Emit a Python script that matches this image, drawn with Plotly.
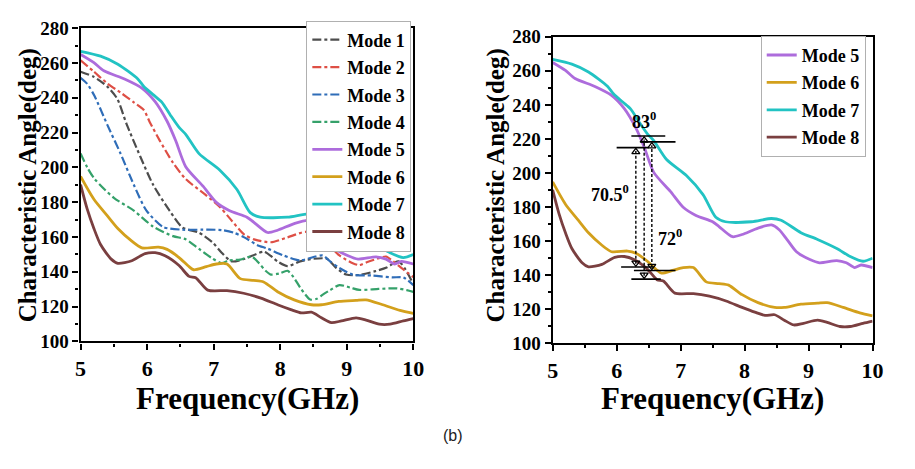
import plotly.graph_objects as go

# ---------------- data ----------------
mode_names = ["Mode 1", "Mode 2", "Mode 3", "Mode 4", "Mode 5", "Mode 6", "Mode 7", "Mode 8"]

f1 = [5.0, 5.2, 5.4, 5.55, 5.69, 5.9, 6.09, 6.34, 6.53, 6.78, 6.98, 7.12, 7.27, 7.47, 7.76, 7.96, 8.11, 8.3, 8.5, 8.7, 8.84, 8.99, 9.19, 9.43, 9.6, 9.78, 10.0]
m1 = [255, 252, 246.5, 239.5, 225, 206, 190, 175, 165.5, 162.5, 157, 151, 146, 147.5, 151.5, 146, 143.3, 146, 147.5, 147.5, 142.3, 138.5, 138.2, 140.4, 142.5, 146, 133]

f2 = [5.0, 5.2, 5.4, 5.6, 5.8, 5.95, 6.04, 6.19, 6.39, 6.58, 6.87, 7.1, 7.23, 7.46, 7.62, 7.86, 8.11, 8.4, 8.64, 8.89, 9.09, 9.19, 9.3, 9.48, 9.59, 9.7, 9.83, 10.0]
m2 = [261.5, 255, 248.3, 243, 237.4, 233, 226, 215.4, 202.6, 193.3, 184.5, 177, 171.3, 161.4, 158.5, 157, 159.8, 163, 158.7, 149.4, 145, 143.9, 145.5, 147.8, 148.8, 146, 142, 137]

f3 = [5.0, 5.1, 5.21, 5.4, 5.6, 5.8, 5.99, 6.24, 6.53, 6.83, 7.12, 7.3, 7.46, 7.65, 7.82, 8.05, 8.3, 8.5, 8.64, 8.75, 8.89, 9.09, 9.38, 9.68, 9.85, 10.0]
m3 = [251.5, 248, 241, 224.6, 208, 190, 175.2, 165.8, 164.2, 164.2, 164, 162.5, 159.8, 155.5, 153.2, 149.4, 146.6, 148.5, 149.4, 146, 142.2, 138.4, 137.9, 136.8, 136.8, 132.4]

f4 = [5.0, 5.1, 5.21, 5.5, 5.8, 6.09, 6.39, 6.58, 6.78, 6.98, 7.12, 7.23, 7.4, 7.57, 7.68, 7.78, 7.86, 7.98, 8.11, 8.2, 8.3, 8.45, 8.55, 8.64, 8.75, 8.89, 9.05, 9.19, 9.48, 9.75, 9.9, 10.0]
m4 = [208, 200, 193.4, 182.5, 175.2, 166, 160.5, 158.7, 153.2, 147.7, 145, 146.6, 147, 148.8, 145, 140.6, 138.4, 139, 140.6, 137, 131, 124.1, 124.5, 126.9, 129.5, 132.4, 131, 129.6, 130.2, 130.5, 129.5, 128.5]

f5 = [5.0, 5.2, 5.35, 5.66, 5.92, 6.12, 6.3, 6.43, 6.58, 6.84, 7.04, 7.24, 7.5, 7.6, 7.81, 7.96, 8.21, 8.42, 8.54, 8.66, 8.81, 9.02, 9.17, 9.44, 9.59, 9.72, 9.82, 10.0]
m5 = [264.9, 260.2, 255.5, 250.8, 245.6, 237.8, 226.5, 215.3, 200.4, 189.2, 179.9, 175.1, 171.4, 168.6, 162.6, 163.9, 167.7, 169.5, 166.7, 161.1, 153.8, 149.2, 147.3, 148.6, 147.3, 144.5, 146, 144.5]

f6 = [5.0, 5.2, 5.4, 5.56, 5.77, 5.92, 6.17, 6.3, 6.48, 6.63, 6.7, 6.89, 7.04, 7.2, 7.4, 7.6, 7.75, 7.96, 8.21, 8.47, 8.62, 8.88, 9.14, 9.29, 9.54, 9.8, 10.0]
m6 = [194.8, 181.7, 172.3, 164.9, 157.6, 153.8, 154.2, 152.9, 148.2, 143, 141.2, 143, 144.5, 144.5, 136.1, 135.1, 134.2, 128.6, 123.9, 121.1, 121.1, 123, 123.6, 123.9, 121.1, 117.9, 116.1]

f7 = [5.0, 5.3, 5.56, 5.86, 5.95, 6.1, 6.22, 6.35, 6.48, 6.58, 6.78, 7.09, 7.35, 7.55, 7.7, 8.11, 8.42, 8.57, 8.88, 9.14, 9.44, 9.65, 9.85, 10.0]
m7 = [266.7, 263.9, 259.3, 250.8, 246.5, 241.5, 237.5, 230, 223, 219, 207.9, 198.5, 187.3, 174, 171.4, 171.4, 173.3, 172.3, 165, 161, 155.7, 151, 148.2, 150]

f8 = [5.0, 5.1, 5.2, 5.3, 5.46, 5.56, 5.77, 5.97, 6.12, 6.27, 6.48, 6.63, 6.73, 6.91, 7.2, 7.45, 7.71, 7.96, 8.16, 8.32, 8.47, 8.62, 8.77, 8.92, 9.14, 9.29, 9.49, 9.65, 9.85, 10.0]
m8 = [190.1, 176, 164.9, 155.7, 147.3, 144.9, 146.4, 150.5, 151, 149.2, 143.6, 137.4, 136.6, 129.5, 129.2, 127.7, 124.9, 121.1, 118.3, 116.4, 116.8, 113.6, 110.8, 111.8, 113.6, 112.3, 109.9, 109.9, 111.8, 113.1]

freqs = [f1, f2, f3, f4, f5, f6, f7, f8]
angles = [m1, m2, m3, m4, m5, m6, m7, m8]

# annotation values on the right panel
arrow_x = [6.30, 6.43, 6.55]
arrow_top = [214.9, 221.7, 218.3]
arrow_bot = [144.8, 137.7, 142.8]
bar_top_y = [221.7, 218.3, 214.9]
bar_top_x0 = [6.23, 6.38, 6.00]
bar_top_x1 = [6.76, 6.92, 6.50]
bar_bot_y = [144.8, 142.8, 137.7]
bar_bot_x0 = [6.07, 6.27, 6.23]
bar_bot_x1 = [6.58, 6.92, 6.69]
label_text = ["83<sup>0</sup>", "70.5<sup>0</sup>", "72<sup>0</sup>"]
label_x = [6.42, 5.90, 6.83]
label_y = [231, 188, 162]

x_ticks = [5, 6, 7, 8, 9, 10]
y_ticks = [100, 120, 140, 160, 180, 200, 220, 240, 260, 280]

# ---------------- style ----------------
colors = ["#4d4d4d", "#de4f45", "#2f6db8", "#35a16a", "#ad6cdc", "#d3a01c", "#22c3c3", "#7a3f40"]
dashes = ["dashdot", "dashdot", "dashdot", "dashdot", "solid", "solid", "solid", "solid"]
widths = [2.2, 2.2, 2.2, 2.2, 2.8, 2.8, 2.8, 2.8]
SERIF = "Liberation Serif"

fig = go.Figure()

for i in range(8):
    fig.add_trace(go.Scatter(
        x=freqs[i], y=angles[i], mode="lines", name="<b>%s</b>" % mode_names[i],
        line=dict(color=colors[i], dash=dashes[i], width=widths[i], shape="spline", smoothing=0.7),
        xaxis="x", yaxis="y", legend="legend", legendgroup="L%d" % i,
    ))

for i in range(4, 8):
    fig.add_trace(go.Scatter(
        x=freqs[i], y=angles[i], mode="lines", name="<b>%s</b>" % mode_names[i],
        line=dict(color=colors[i], dash=dashes[i], width=widths[i], shape="spline", smoothing=0.7),
        xaxis="x2", yaxis="y2", legend="legend2", legendgroup="R%d" % i,
    ))

# horizontal bars
for j in range(3):
    fig.add_trace(go.Scatter(x=[bar_top_x0[j], bar_top_x1[j]], y=[bar_top_y[j]] * 2, mode="lines",
                             line=dict(color="black", width=1.6), xaxis="x2", yaxis="y2", showlegend=False,
                             hoverinfo="skip"))
    fig.add_trace(go.Scatter(x=[bar_bot_x0[j], bar_bot_x1[j]], y=[bar_bot_y[j]] * 2, mode="lines",
                             line=dict(color="black", width=1.6), xaxis="x2", yaxis="y2", showlegend=False,
                             hoverinfo="skip"))
# dashed double arrows
for j in range(3):
    fig.add_trace(go.Scatter(x=[arrow_x[j], arrow_x[j]], y=[arrow_bot[j] + 2, arrow_top[j] - 2], mode="lines",
                             line=dict(color="black", width=1.4, dash="3px,2px"), xaxis="x2", yaxis="y2",
                             showlegend=False, hoverinfo="skip"))
fig.add_trace(go.Scatter(x=arrow_x, y=[t - 2.5 for t in arrow_top], mode="markers",
                         marker=dict(symbol="triangle-up-open", size=7, color="black", line=dict(width=1.3)),
                         xaxis="x2", yaxis="y2", showlegend=False, hoverinfo="skip"))
fig.add_trace(go.Scatter(x=arrow_x, y=[b + 2.5 for b in arrow_bot], mode="markers",
                         marker=dict(symbol="triangle-down-open", size=7, color="black", line=dict(width=1.3)),
                         xaxis="x2", yaxis="y2", showlegend=False, hoverinfo="skip"))

annotations = []
for j in range(3):
    annotations.append(dict(x=label_x[j], y=label_y[j], xref="x2", yref="y2", text="<b>%s</b>" % label_text[j],
                            showarrow=False, font=dict(family=SERIF, size=18, color="black")))

W, H = 915, 469
# axis titles
for xc in [22, 499]:
    annotations.append(dict(x=xc / W, y=1 - 184 / H, xref="paper", yref="paper",
                            text="<b>Characteristic Angle(deg)</b>", textangle=-90, showarrow=False,
                            font=dict(family=SERIF, size=25, color="black"), xanchor="center", yanchor="middle"))
for xc in [246, 720]:
    annotations.append(dict(x=xc / W, y=1 - 407 / H, xref="paper", yref="paper",
                            text="<b>Frequency(GHz)</b>", showarrow=False,
                            font=dict(family=SERIF, size=31, color="black"), xanchor="center", yanchor="middle"))
annotations.append(dict(x=455 / W, y=1 - 445 / H, xref="paper", yref="paper", text="(b)", showarrow=False,
                        font=dict(family="Liberation Sans", size=16, color="#222"),
                        xanchor="center", yanchor="middle"))


def xaxis(dom, anchor):
    return dict(domain=dom, range=[5, 10], anchor=anchor, tickvals=x_ticks,
                ticktext=["<b>%d</b>" % v for v in x_ticks], ticks="outside", ticklen=6,
                tickwidth=2, tickcolor="black", showline=True, linecolor="black", linewidth=2.2, mirror=True,
                showgrid=False, zeroline=False,
                tickfont=dict(family=SERIF, size=22, color="black"),
                minor=dict(dtick=0.5, tick0=5, ticks="outside", ticklen=3, tickwidth=1.5, tickcolor="black"))


def yaxis(dom, anchor):
    return dict(domain=dom, range=[100, 280], anchor=anchor, tickvals=y_ticks,
                ticktext=["<b>%d</b>" % v for v in y_ticks], ticks="outside", ticklen=6,
                tickwidth=2, tickcolor="black", showline=True, linecolor="black", linewidth=2.2, mirror=True,
                showgrid=False, zeroline=False,
                tickfont=dict(family=SERIF, size=19, color="black"),
                minor=dict(dtick=10, tick0=100, ticks="outside", ticklen=3, tickwidth=1.5, tickcolor="black"))


fig.update_layout(
    width=W, height=H, margin=dict(l=0, r=0, t=0, b=0),
    paper_bgcolor="white", plot_bgcolor="white",
    xaxis=xaxis([76 / W, 415 / W], "y"),
    yaxis=yaxis([1 - 347 / H, 1 - 19 / H], "x"),
    xaxis2=xaxis([557 / W, 883 / W], "y2"),
    yaxis2=yaxis([1 - 349 / H, 1 - 28 / H], "x2"),
    legend=dict(x=413 / W, y=1 - 11 / H, xanchor="right", yanchor="top", bgcolor="white",
                bordercolor="#b0b0b0", borderwidth=1, traceorder="grouped", tracegroupgap=1,
                font=dict(family=SERIF, size=18, color="black"), itemwidth=30),
    legend2=dict(x=876 / W, y=1 - 27 / H, xanchor="right", yanchor="top", bgcolor="white",
                 bordercolor="#b0b0b0", borderwidth=1, traceorder="grouped", tracegroupgap=1,
                 font=dict(family=SERIF, size=18, color="black"), itemwidth=30),
    annotations=annotations,
    showlegend=True,
)

fig.write_html("out.html")
